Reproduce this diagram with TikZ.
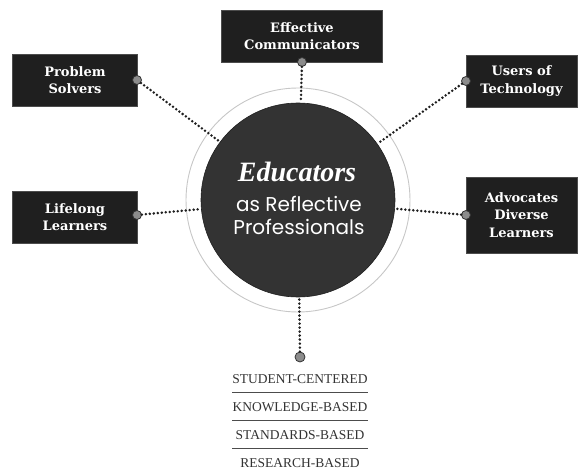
\documentclass[tikz,border=0pt]{standalone}
\usepackage{fontspec}
\setmainfont{Liberation Serif}
\newfontfamily\boxfont{DejaVu Serif}
\newfontfamily\hubsans{Poppins}
\newfontfamily\hubscript{Liberation Serif}
\begin{document}
\begin{tikzpicture}[x=1pt,y=-1pt,
  trait/.style={draw=black!70,fill=black!88,minimum height=52pt,
    text=white,align=center,inner sep=2pt,
    font=\boxfont\bfseries\fontsize{13}{17.5}\selectfont},
  hubdisc/.style={circle,fill=black!80,draw=black!88,line width=0.6pt,minimum size=194pt,inner sep=0pt},
  dotline/.style={draw=black!88,line width=2.8pt,line cap=round,dash pattern=on 0pt off 4pt},
  knob/.style={circle,fill=black!45,draw=black!80,line width=0.8pt,minimum size=9pt,inner sep=0pt},
  quality/.style={font=\fontsize{13.5}{15}\selectfont,text=black!80},
  rule/.style={draw=black!70,line width=0.8pt}
]
\useasboundingbox (0,0) rectangle (583,470);

% outer light ring around the central disc
\draw[black!22,line width=0.9pt] (298,200) circle[radius=112];

% central disc
\node[hubdisc] (hub) at (298,200) {};
\node[text=white,font=\hubscript\bfseries\itshape\fontsize{28}{30}\selectfont] (edu) at (297,172) {Educators};
\node[text=white,align=center,font=\hubsans\fontsize{20}{23}\selectfont] (ref) at (299,215) {as Reflective\\Professionals};

% trait boxes
\node[trait,minimum width=161pt] (comm) at (302,36) {Effective\\Communicators};
\node[trait,minimum width=125pt] (prob) at (75,80) {Problem\\Solvers};
\node[trait,minimum width=125pt] (life) at (75,217) {Lifelong\\Learners};
\node[trait,minimum width=111pt] (tech) at (521.5,81) {Users of\\Technology};
\node[trait,minimum width=111pt,minimum height=76pt] (adv) at (521.5,215) {Advocates\\Diverse\\Learners};

% anchor knobs on the box edges
\node[knob] (kcomm) at (302,62) {};
\node[knob] (kprob) at (137,80) {};
\node[knob] (klife) at (137,215) {};
\node[knob] (ktech) at (466,81) {};
\node[knob] (kadv) at (466,215) {};
\node[knob,minimum size=10pt] (kbase) at (300,357) {};

% dotted connectors to the disc
\draw[dotline] (kcomm) -- (hub);
\draw[dotline] (kprob) -- (hub);
\draw[dotline] (klife) -- (hub);
\draw[dotline] (ktech) -- (hub);
\draw[dotline] (kadv) -- (hub);
\draw[dotline] (kbase) -- (hub);

% foundations list
\node[quality] (q1) at (300,379) {STUDENT-CENTERED};
\node[quality] (q2) at (300,407) {KNOWLEDGE-BASED};
\node[quality] (q3) at (300,435) {STANDARDS-BASED};
\node[quality] (q4) at (300,463) {RESEARCH-BASED};
\draw[rule] (232,392) -- (368,392);
\draw[rule] (232,420) -- (368,420);
\draw[rule] (232,448) -- (368,448);
\end{tikzpicture}
\end{document}
